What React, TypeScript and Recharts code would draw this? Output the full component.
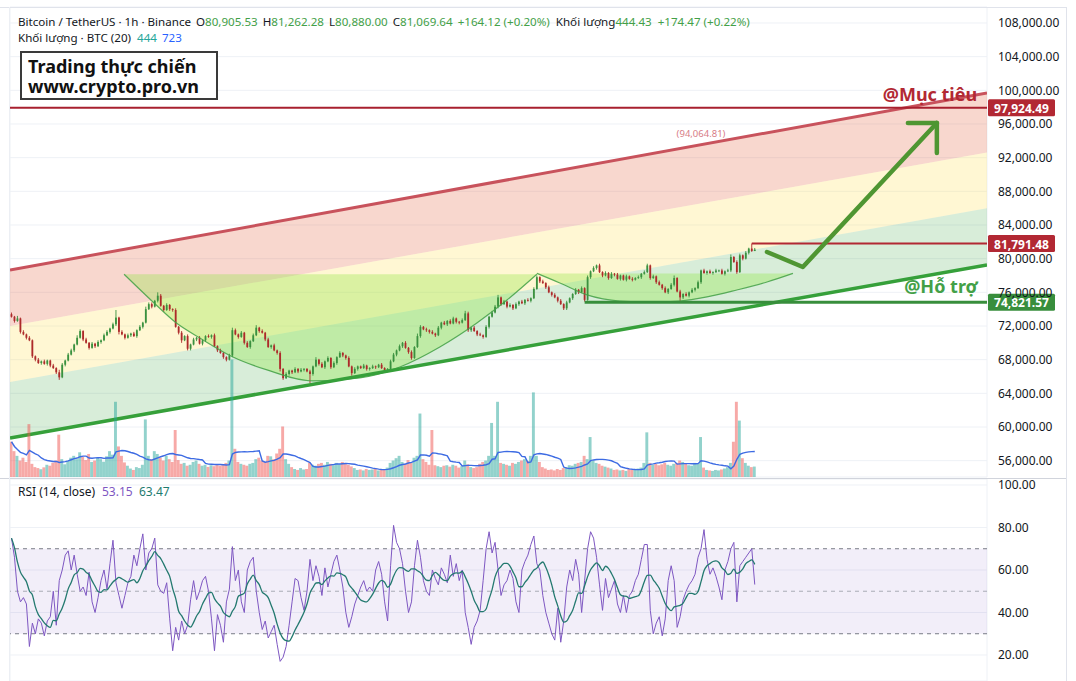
import React from "react";
import {
  ComposedChart,
  Bar,
  Line,
  Area,
  XAxis,
  YAxis,
  CartesianGrid,
  ReferenceLine,
  ReferenceArea,
  ReferenceDot,
} from "recharts";

const FONT = "'Noto Sans', 'Open Sans', 'DejaVu Sans', sans-serif";

// ---------- price data (hourly candles, thousand USDT) ----------
const firstOpen = 73.4;
const closes = [
  73.1, 72.6, 72.9, 71.3, 71.0, 70.6, 70.3, 68.4, 68.0, 67.6,
  67.8, 67.5, 67.9, 67.3, 67.0, 66.5, 65.9, 67.4, 67.9, 68.6,
  69.1, 69.8, 70.6, 71.4, 70.4, 70.0, 69.4, 69.9, 69.6, 70.1,
  70.3, 70.9, 71.3, 71.7, 72.2, 73.0, 71.3, 71.0, 70.6, 70.9,
  71.1, 70.8, 71.5, 71.9, 72.4, 74.0, 74.6, 74.3, 75.0, 75.6,
  74.4, 73.9, 74.5, 74.0, 73.9, 71.9, 71.2, 70.3, 70.8, 69.3,
  69.8, 70.4, 70.6, 69.9, 70.3, 70.8, 70.7, 70.9, 69.6, 69.1,
  68.8, 68.3, 68.0, 68.5, 71.5, 71.0, 70.7, 71.2, 70.0, 69.5,
  70.2, 70.9, 71.8, 71.4, 71.2, 70.4, 69.5, 69.7, 69.1, 68.8,
  66.9, 65.8, 66.3, 66.7, 66.5, 66.9, 66.6, 66.8, 66.9, 66.6,
  66.3, 67.2, 68.0, 67.5, 67.1, 67.8, 68.2, 67.1, 67.6, 68.3,
  68.8, 68.5, 68.2, 67.2, 66.4, 66.9, 67.2, 67.0, 67.3, 66.9,
  67.0, 67.2, 67.1, 67.4, 67.0, 66.7, 66.9, 67.8, 68.6, 69.1,
  69.6, 70.0, 69.4, 68.9, 68.2, 69.5, 70.8, 71.9, 71.6, 71.5,
  71.3, 71.1, 70.9, 71.8, 72.4, 72.2, 72.6, 72.3, 72.9, 72.5,
  72.4, 72.7, 73.5, 71.5, 71.8, 71.4, 71.0, 70.9, 70.7, 71.9,
  73.1, 73.6, 74.3, 75.4, 74.6, 74.9, 74.3, 74.5, 74.1, 74.6,
  74.9, 74.7, 75.1, 75.0, 75.3, 76.4, 77.8, 77.3, 77.1, 76.6,
  76.0, 75.7, 75.4, 75.0, 74.6, 74.1, 74.8, 75.3, 75.8, 76.3,
  76.0, 76.5, 75.1, 77.8, 78.5, 78.9, 79.2, 78.4, 78.0, 78.3,
  77.7, 78.2, 78.1, 77.6, 78.0, 77.5, 77.9, 77.6, 77.5, 77.7,
  77.8, 78.2, 78.4, 79.2, 77.7, 77.9, 77.2, 76.9, 76.5, 76.0,
  76.4, 76.9, 77.7, 76.1, 75.4, 75.8, 75.6, 76.0, 76.3, 76.5,
  77.2, 78.6, 78.3, 78.5, 78.3, 78.4, 78.6, 78.6, 78.2, 78.5,
  78.6, 80.2, 79.6, 78.4, 80.4, 80.0, 80.7, 81.2, 80.905, 81.07,
];
// wick lengths in hundreds of USDT
const wickUp = [
  2, 1, 3, 1, 2, 1, 2, 1, 1, 2, 1, 2, 1, 1, 2, 1, 3, 2, 1, 2,
  2, 1, 3, 2, 1, 2, 1, 2, 1, 2, 1, 2, 2, 1, 2, 9, 1, 2, 1, 2,
  1, 2, 1, 2, 1, 3, 2, 2, 1, 4, 2, 1, 2, 1, 1, 2, 1, 2, 1, 2,
  1, 2, 1, 2, 1, 1, 2, 1, 2, 1, 2, 1, 1, 2, 3, 2, 1, 2, 1, 2,
  1, 2, 3, 1, 2, 1, 2, 1, 2, 1, 2, 1, 2, 1, 1, 2, 1, 2, 1, 1,
  2, 1, 3, 1, 2, 1, 2, 1, 2, 1, 2, 1, 1, 2, 1, 2, 1, 1, 2, 1,
  1, 2, 1, 1, 2, 1, 1, 2, 2, 1, 2, 1, 2, 1, 2, 1, 3, 2, 1, 2,
  1, 2, 1, 2, 1, 2, 1, 2, 2, 1, 1, 2, 3, 2, 1, 2, 1, 2, 1, 2,
  1, 2, 2, 3, 1, 2, 1, 2, 1, 2, 1, 2, 1, 2, 1, 2, 2, 1, 2, 1,
  2, 1, 2, 1, 2, 1, 2, 1, 1, 2, 1, 2, 1, 2, 1, 2, 1, 2, 1, 2,
  1, 2, 1, 2, 1, 1, 2, 1, 2, 1, 2, 1, 2, 2, 1, 2, 1, 2, 1, 2,
  1, 2, 3, 1, 2, 1, 2, 1, 2, 1, 2, 1, 2, 1, 2, 1, 2, 1, 2, 1,
  2, 3, 1, 2, 2, 1, 2, 1, 6, 2,
];
const wickDown = [
  1, 2, 1, 2, 1, 2, 1, 2, 2, 1, 2, 1, 2, 2, 1, 2, 3, 1, 2, 1,
  1, 2, 1, 1, 2, 1, 2, 1, 2, 1, 2, 1, 1, 2, 1, 2, 3, 1, 2, 1,
  2, 1, 2, 1, 2, 1, 1, 2, 1, 2, 1, 2, 1, 2, 2, 1, 2, 3, 1, 2,
  2, 1, 2, 1, 2, 2, 1, 2, 1, 2, 1, 2, 2, 1, 2, 1, 2, 1, 2, 1,
  2, 1, 1, 2, 1, 2, 1, 2, 1, 2, 3, 2, 1, 2, 2, 1, 2, 1, 2, 1,
  11, 2, 1, 2, 1, 2, 1, 2, 1, 2, 1, 2, 2, 1, 3, 1, 2, 1, 1, 2,
  2, 1, 2, 1, 1, 2, 2, 1, 1, 2, 1, 2, 1, 2, 2, 1, 1, 2, 1, 2,
  2, 1, 2, 1, 2, 1, 2, 1, 1, 2, 2, 1, 1, 2, 2, 1, 2, 1, 2, 1,
  2, 1, 1, 2, 2, 1, 2, 1, 2, 1, 2, 1, 2, 1, 2, 1, 1, 2, 1, 2,
  1, 2, 1, 2, 1, 2, 2, 1, 2, 1, 2, 1, 2, 1, 2, 1, 2, 1, 2, 1,
  2, 1, 2, 1, 2, 1, 2, 1, 2, 1, 1, 2, 1, 1, 2, 1, 2, 1, 2, 1,
  2, 1, 2, 1, 5, 2, 1, 2, 1, 2, 1, 2, 1, 2, 1, 2, 1, 2, 1, 2,
  1, 2, 1, 2, 1, 2, 1, 2, 1, 0,
];
// volume (BTC)
const volumes = [
  1500, 1100, 900, 700, 820, 640, 2250, 560, 420, 380,
  330, 410, 520, 480, 610, 700, 1800, 760, 540, 690,
  820, 900, 760, 1050, 860, 720, 980, 640, 700, 820,
  760, 650, 880, 1100, 950, 3200, 1300, 900, 620, 480,
  360, 300, 420, 380, 520, 2450, 900, 760, 1100, 980,
  820, 700, 900, 760, 640, 2000, 720, 560, 600, 480,
  520, 640, 700, 560, 480, 520, 430, 500, 460, 540,
  480, 520, 600, 700, 5000, 1200, 640, 560, 520, 480,
  560, 600, 760, 820, 700, 640, 900, 880, 760, 1000,
  1200, 2150, 760, 560, 420, 340, 300, 380, 320, 340,
  600, 520, 480, 560, 600, 520, 640, 560, 500, 600,
  540, 640, 580, 520, 450, 380, 300, 320, 280, 340,
  300, 320, 360, 280, 340, 300, 400, 600, 700, 800,
  900, 640, 560, 720, 600, 820, 900, 2700, 760, 640,
  520, 2000, 500, 460, 420, 480, 500, 440, 520, 480,
  400, 460, 700, 540, 420, 380, 420, 560, 640, 700,
  900, 2300, 900, 3200, 600, 560, 520, 480, 600, 560,
  640, 700, 760, 680, 900, 3600, 900, 640, 420, 360,
  300, 320, 280, 340, 300, 380, 420, 500, 480, 560,
  600, 640, 900, 760, 1700, 700, 600, 560, 480, 440,
  400, 360, 300, 320, 280, 300, 260, 340, 300, 320,
  360, 400, 600, 1900, 600, 520, 560, 500, 540, 600,
  520, 480, 560, 600, 700, 640, 560, 500, 480, 600,
  560, 1700, 400, 300, 280, 260, 300, 280, 320, 360,
  420, 600, 1500, 3200, 2400, 800, 600, 480, 420, 444,
];
// RSI(14)
const rsiValues = [
  75, 66, 50, 45, 47, 44, 24, 35, 30, 37,
  35, 29, 36, 38, 50, 34, 55, 60, 67, 69,
  60, 67, 58, 50, 52, 48, 59, 45, 40, 47,
  55, 60, 51, 63, 74, 54, 48, 42, 48, 54,
  57, 67, 62, 70, 77, 60, 68, 70, 75, 53,
  50, 49, 54, 37, 22, 33, 27, 36, 30, 34,
  46, 55, 46, 50, 55, 57, 50, 37, 22, 39,
  34, 26, 45, 51, 71, 55, 60, 45, 40, 60,
  64, 66, 50, 40, 32, 36, 28, 31, 34, 25,
  17, 19, 24, 34, 45, 56, 55, 47, 41, 50,
  65, 55, 62, 57, 48, 61, 52, 58, 64, 67,
  60, 52, 40, 33, 38, 44, 48, 52, 55, 50,
  52, 50, 60, 64, 58, 45, 36, 62, 81, 73,
  70, 63, 50, 40, 45, 62, 74, 66, 55, 50,
  48, 60, 56, 53, 61, 58, 54, 67, 57, 63,
  55, 60, 40, 33, 25, 33, 36, 41, 55, 70,
  78, 68, 73, 60, 48, 53, 55, 60, 56, 45,
  40, 60, 64, 67, 72, 76, 63, 60, 48, 40,
  35, 30, 27, 42, 26, 36, 52, 60, 55, 65,
  58, 40, 55, 70, 78, 75, 66, 53, 41, 56,
  47, 51, 55, 44, 40, 48, 40, 48, 50, 55,
  58, 65, 72, 72, 41, 30, 35, 38, 29, 37,
  55, 62, 55, 33, 38, 46, 50, 53, 55, 58,
  66, 70, 79, 65, 58, 61, 57, 52, 46, 60,
  64, 70, 73, 45, 62, 64, 66, 68, 70, 53.15,
];

// ---------- axes ----------
const priceTicks = [56000, 60000, 64000, 68000, 72000, 76000, 80000, 84000, 88000, 92000, 96000, 100000, 104000, 108000];
const rsiTicks = [20, 40, 60, 80, 100];
const timeGrid = [2.85, 23.3, 43.2, 63.5, 83.9, 107.4, 127.7, 147.8, 168, 187.9, 207.9, 228.3, 248.3, 268.3, 288.3, 308.4];
const X_DOMAIN: [number, number] = [-0.5, 326.8];
const PRICE_DOMAIN: [number, number] = [54060, 109900];
const VOL_DOMAIN: [number, number] = [0, 20000];
const RSI_DOMAIN: [number, number] = [7.76, 102.82];

// ---------- drawings ----------
const channelIdx = [-0.5, 326.8];
const channelTop = [78650, 99700];
const channelMid1 = [72000, 92600];
const channelMid2 = [65350, 86000];
const channelBottom = [58700, 79250];

const cup1Idx = [37.7, 47.4, 54.8, 63.1, 74.2, 85.6, 101.0, 116.7, 130.1, 143.5, 155.9, 166.0, 176.0];
const cup1Price = [78150, 74855, 72480, 70580, 68320, 66780, 65470, 65830, 67130, 69510, 72360, 75090, 78150];
const cup1Top = 78150;
const cup2Idx = [176.0, 183.7, 192.8, 203.8, 214.9, 223.9, 233.0, 243.0, 253.1, 261.8];
const cup2Price = [78250, 77110, 75690, 74970, 74850, 74970, 75450, 76280, 77230, 78250];
const cup2Top = 78250;

const targetLevel = 97924.49;
const resistLevel = 81791.48;
const resistStart = 248;
const supportLevel = 74821.57;
const supportStart = 192;

const arrowIdx = [253.1, 265.1, 310.0];
const arrowPrice = [80795, 79013, 96120];
const arrowHeadIdx = [300.3, 310.0, 310.0];
const arrowHeadPrice = [96120, 96120, 92556];

const legendOHLC = [
  { k: "O", v: "80,905.53" },
  { k: "H", v: "81,262.28" },
  { k: "L", v: "80,880.00" },
  { k: "C", v: "81,069.64" },
];

// ---------- colours ----------
const UP = "#3a913f";
const DOWN = "#ad2a2a";
const VUP = "rgba(38,166,154,0.5)";
const VDOWN = "rgba(239,83,80,0.5)";
const LEG_GREEN = "#43a047";

// ---------- derived rows ----------
const sma = (arr: number[], n: number) =>
  arr.map((_, i) => {
    const s = Math.max(0, i - n + 1);
    let t = 0;
    for (let k = s; k <= i; k++) t += arr[k];
    return t / (i - s + 1);
  });

const candleRows = closes.map((c, i) => {
  const o = i === 0 ? firstOpen : closes[i - 1];
  const hi = Math.max(o, c) + wickUp[i] / 10;
  const lo = Math.min(o, c) - wickDown[i] / 10;
  return { i, o: o * 1000, c: c * 1000, h: hi * 1000, l: lo * 1000, range: [lo * 1000, hi * 1000] };
});
const volMA = sma(volumes, 10);
const volumeRows = volumes.map((v, i) => ({ i, vol: v, up: candleRows[i].c >= candleRows[i].o, ma: volMA[i] }));
const rsiMA = sma(rsiValues, 8);
const rsiRows = rsiValues.map((v, i) => ({ i, rsi: v, ma: rsiMA[i] }));

const band = (lo: number[], hi: number[]) => channelIdx.map((x, k) => ({ i: x, v: [lo[k], hi[k]] }));
const line2 = (ys: number[]) => channelIdx.map((x, k) => ({ i: x, p: ys[k] }));
const cupRows = (idx: number[], price: number[], top: number) =>
  idx.map((x, k) => ({ i: x, v: [price[k], top], p: price[k] }));
const pts = (idx: number[], price: number[]) => idx.map((x, k) => ({ i: x, p: price[k] }));

const fmtPrice = (v: number) => v.toLocaleString("en-US", { minimumFractionDigits: 2, maximumFractionDigits: 2 });

// ---------- shapes ----------
const CandleShape = (props: any) => {
  const { x, y, width, height, payload } = props;
  if (!payload || x == null || y == null || height == null) return null;
  const top = Math.min(y, y + height);
  const h = Math.abs(height);
  const span = payload.h - payload.l;
  const k = span > 0 ? h / span : 0;
  const yOf = (v: number) => top + (payload.h - v) * k;
  const color = payload.c >= payload.o ? UP : DOWN;
  const cx = x + width / 2;
  const bTop = yOf(Math.max(payload.o, payload.c));
  const bBot = yOf(Math.min(payload.o, payload.c));
  return (
    <g>
      <line x1={cx} x2={cx} y1={top} y2={top + h} stroke={color} strokeWidth={0.9} />
      <rect x={cx - 0.9} y={bTop} width={1.8} height={Math.max(0.8, bBot - bTop)} fill={color} />
    </g>
  );
};

const VolShape = (props: any) => {
  const { x, y, width, height, payload } = props;
  if (!payload || x == null || height == null) return null;
  const top = Math.min(y, y + height);
  return <rect x={x + width / 2 - 1.45} y={top} width={2.9} height={Math.abs(height)} fill={payload.up ? VUP : VDOWN} />;
};

const PriceTag = (props: any) => {
  const { viewBox, text, bg } = props;
  if (!viewBox) return null;
  const x = viewBox.x + 1;
  const y = viewBox.y;
  return (
    <g>
      <rect x={x} y={y - 8.5} width={67} height={17} fill={bg} rx={1.5} />
      <text x={x + 33.5} y={y + 0.5} fill="#ffffff" fontSize={12} fontWeight={700} fontFamily={FONT} textAnchor="middle" dominantBaseline="central">
        {text}
      </text>
    </g>
  );
};

const TextTag = (props: any) => {
  const { viewBox, text, color, size, weight } = props;
  if (!viewBox) return null;
  return (
    <text x={viewBox.x} y={viewBox.y} fill={color} fontSize={size} fontWeight={weight} fontFamily={FONT} textAnchor="middle" dominantBaseline="central">
      {text}
    </text>
  );
};

const MARGIN = { top: 7, right: 13, bottom: 1, left: 10 };

const xAxisProps = {
  dataKey: "i",
  type: "number" as const,
  domain: X_DOMAIN,
  allowDataOverflow: true,
  ticks: timeGrid,
  height: 0,
  tick: false,
  axisLine: false,
  tickLine: false,
};

const Abs = ({ x, y, children, color = "#131722", size = 12, weight = 400 }: any) => (
  <span style={{ position: "absolute", left: x, top: y, color, fontSize: size, fontWeight: weight, whiteSpace: "nowrap", lineHeight: "16px" }}>
    {children}
  </span>
);

const gap = (w: number) => <span style={{ display: "inline-block", width: w }} />;

export default function App() {
  return (
    <div style={{ position: "absolute", left: 0, top: 0, width: 1076, height: 681, background: "#fff", overflow: "hidden", fontFamily: FONT }}>
      {/* price pane */}
      <div style={{ position: "absolute", left: 0, top: 0 }}>
        <ComposedChart width={1076} height={478} data={candleRows} margin={MARGIN}>
          <CartesianGrid stroke="#eef1f6" />
          <XAxis {...xAxisProps} />
          <YAxis
            orientation="right"
            type="number"
            domain={PRICE_DOMAIN}
            allowDataOverflow
            ticks={priceTicks}
            interval={0}
            width={76}
            axisLine={false}
            tickLine={false}
            tickMargin={5}
            tick={{ fontSize: 12, fill: "#131722", fontFamily: FONT, textAnchor: "start" }}
            tickFormatter={fmtPrice}
          />
          <Area data={band(channelMid1, channelTop)} dataKey="v" type="linear" stroke="none" fill="rgba(230,110,80,0.28)" fillOpacity={1} isAnimationActive={false} />
          <Area data={band(channelMid2, channelMid1)} dataKey="v" type="linear" stroke="none" fill="rgba(255,225,80,0.25)" fillOpacity={1} isAnimationActive={false} />
          <Area data={band(channelBottom, channelMid2)} dataKey="v" type="linear" stroke="none" fill="rgba(76,175,80,0.22)" fillOpacity={1} isAnimationActive={false} />
          <Area data={cupRows(cup1Idx, cup1Price, cup1Top)} dataKey="v" type="monotone" stroke="none" fill="rgba(140,230,60,0.32)" fillOpacity={1} isAnimationActive={false} />
          <Area data={cupRows(cup2Idx, cup2Price, cup2Top)} dataKey="v" type="monotone" stroke="none" fill="rgba(140,230,60,0.32)" fillOpacity={1} isAnimationActive={false} />
          <Line data={pts(cup1Idx, cup1Price)} dataKey="p" type="monotone" stroke="rgba(67,160,71,0.85)" strokeWidth={1.2} dot={false} isAnimationActive={false} />
          <Line data={pts(cup2Idx, cup2Price)} dataKey="p" type="monotone" stroke="rgba(67,160,71,0.85)" strokeWidth={1.2} dot={false} isAnimationActive={false} />
          <Line data={line2(channelTop)} dataKey="p" type="linear" stroke="#c8525c" strokeWidth={3} dot={false} isAnimationActive={false} />
          <Line data={line2(channelBottom)} dataKey="p" type="linear" stroke="#36a03a" strokeWidth={3.5} dot={false} isAnimationActive={false} />
          <ReferenceLine y={targetLevel} stroke="#a8202f" strokeWidth={2} />
          <Line data={[{ i: resistStart, p: resistLevel }, { i: X_DOMAIN[1], p: resistLevel }]} dataKey="p" type="linear" stroke="#b22833" strokeWidth={2} dot={false} isAnimationActive={false} />
          <Line data={[{ i: supportStart, p: supportLevel }, { i: X_DOMAIN[1], p: supportLevel }]} dataKey="p" type="linear" stroke="#388e3c" strokeWidth={3} dot={false} isAnimationActive={false} />
          <Bar dataKey="range" barSize={2} shape={CandleShape} isAnimationActive={false} />
          <Line data={pts(arrowIdx, arrowPrice)} dataKey="p" type="linear" stroke="#4f9632" strokeWidth={4.5} strokeLinecap="round" strokeLinejoin="round" dot={false} isAnimationActive={false} />
          <Line data={pts(arrowHeadIdx, arrowHeadPrice)} dataKey="p" type="linear" stroke="#4f9632" strokeWidth={4.5} strokeLinecap="round" strokeLinejoin="round" dot={false} isAnimationActive={false} />
          <ReferenceDot x={307.7} y={99600} r={0} fill="none" stroke="none" ifOverflow="visible" label={<TextTag text="@Mục tiêu" color="#b22833" size={18} weight={700} />} />
          <ReferenceDot x={311.4} y={76700} r={0} fill="none" stroke="none" ifOverflow="visible" label={<TextTag text="@Hỗ trợ" color="#43a047" size={18} weight={700} />} />
          <ReferenceDot x={231} y={94813} r={0} fill="none" stroke="none" ifOverflow="visible" label={<TextTag text="(94,064.81)" color="#d77c86" size={9.5} weight={400} />} />
          <ReferenceDot x={X_DOMAIN[1]} y={targetLevel} r={0} fill="none" stroke="none" ifOverflow="visible" label={<PriceTag text="97,924.49" bg="#b22833" />} />
          <ReferenceDot x={X_DOMAIN[1]} y={resistLevel} r={0} fill="none" stroke="none" ifOverflow="visible" label={<PriceTag text="81,791.48" bg="#b22833" />} />
          <ReferenceDot x={X_DOMAIN[1]} y={supportLevel} r={0} fill="none" stroke="none" ifOverflow="visible" label={<PriceTag text="74,821.57" bg="#388e3c" />} />
        </ComposedChart>
      </div>

      {/* volume overlay */}
      <div style={{ position: "absolute", left: 0, top: 0, pointerEvents: "none" }}>
        <ComposedChart width={1076} height={478} data={volumeRows} margin={MARGIN}>
          <XAxis {...xAxisProps} />
          <YAxis orientation="right" type="number" domain={VOL_DOMAIN} allowDataOverflow width={76} tick={false} axisLine={false} tickLine={false} />
          <Bar dataKey="vol" barSize={2} shape={VolShape} isAnimationActive={false} />
          <Line dataKey="ma" type="linear" stroke="#3d6be3" strokeWidth={1.4} dot={false} isAnimationActive={false} />
        </ComposedChart>
      </div>

      {/* RSI pane (svg starts a little higher so the 100.00 label is not clipped) */}
      <div style={{ position: "absolute", left: 0, top: 468, pointerEvents: "none" }}>
        <ComposedChart width={1076} height={213} data={rsiRows} margin={{ top: 11, right: 13, bottom: 0, left: 10 }}>
          <CartesianGrid stroke="#eef1f6" />
          <XAxis {...xAxisProps} />
          <YAxis
            orientation="right"
            type="number"
            domain={RSI_DOMAIN}
            allowDataOverflow
            ticks={rsiTicks}
            interval={0}
            width={76}
            axisLine={false}
            tickLine={false}
            tickMargin={5}
            tick={{ fontSize: 12, fill: "#131722", fontFamily: FONT, textAnchor: "start" }}
            tickFormatter={(v: number) => v.toFixed(2)}
          />
          <ReferenceArea y1={30} y2={70} fill="rgba(126,87,194,0.1)" fillOpacity={1} stroke="none" />
          <ReferenceLine y={70} stroke="#787b86" strokeDasharray="4 4" />
          <ReferenceLine y={50} stroke="#a9acb5" strokeDasharray="4 4" />
          <ReferenceLine y={30} stroke="#787b86" strokeDasharray="4 4" />
          <Line dataKey="rsi" type="linear" stroke="#7e57c2" strokeWidth={1} dot={false} isAnimationActive={false} />
          <Line dataKey="ma" type="monotone" stroke="#23796f" strokeWidth={1.3} dot={false} isAnimationActive={false} />
        </ComposedChart>
      </div>

      {/* frame lines */}
      <div style={{ position: "absolute", left: 0, top: 7, width: 1066, height: 1, background: "#e0e3eb" }} />
      <div style={{ position: "absolute", left: 0, top: 478, width: 1066, height: 1, background: "#d1d4dc" }} />
      <div style={{ position: "absolute", left: 1066, top: 7, width: 1, height: 674, background: "#e0e3eb" }} />
      <div style={{ position: "absolute", left: 9, top: 7, width: 1, height: 674, background: "#eceff4" }} />

      {/* legends */}
      <div style={{ position: "absolute", left: 18, top: 14, fontSize: 11.6, lineHeight: "16px", color: "#131722", whiteSpace: "nowrap" }}>
        <span>Bitcoin / TetherUS · 1h · Binance</span>
        {legendOHLC.map((d) => (
          <span key={d.k}>
            {gap(5)}
            {d.k}
            <span style={{ color: LEG_GREEN }}>{d.v}</span>
          </span>
        ))}
        {gap(5)}
        <span style={{ color: LEG_GREEN }}>+164.12 (+0.20%)</span>
        {gap(6)}
        <span>Khối lượng</span>
        <span style={{ color: LEG_GREEN }}>444.43</span>
        {gap(6)}
        <span style={{ color: LEG_GREEN }}>+174.47 (+0.22%)</span>
      </div>
      <div style={{ position: "absolute", left: 18, top: 30, fontSize: 11.6, lineHeight: "16px", color: "#131722", whiteSpace: "nowrap" }}>
        <span>Khối lượng · BTC (20)</span>
        {gap(6)}
        <span style={{ color: "#26a69a" }}>444</span>
        {gap(5)}
        <span style={{ color: "#2962ff" }}>723</span>
      </div>

      <Abs x={18} y={484}>RSI (14, close)</Abs>
      <Abs x={102} y={484} color="#7e57c2">53.15</Abs>
      <Abs x={139} y={484} color="#1e7b6f">63.47</Abs>

      <div
        style={{
          position: "absolute",
          left: 20,
          top: 51,
          width: 198,
          height: 49,
          boxSizing: "border-box",
          border: "2px solid #3a3a3a",
          background: "#fff",
          padding: "3px 0 0 6px",
          fontWeight: 700,
          fontSize: 18,
          lineHeight: "20px",
          color: "#111",
          whiteSpace: "nowrap",
        }}
      >
        Trading thực chiến
        <br />
        www.crypto.pro.vn
      </div>
    </div>
  );
}
